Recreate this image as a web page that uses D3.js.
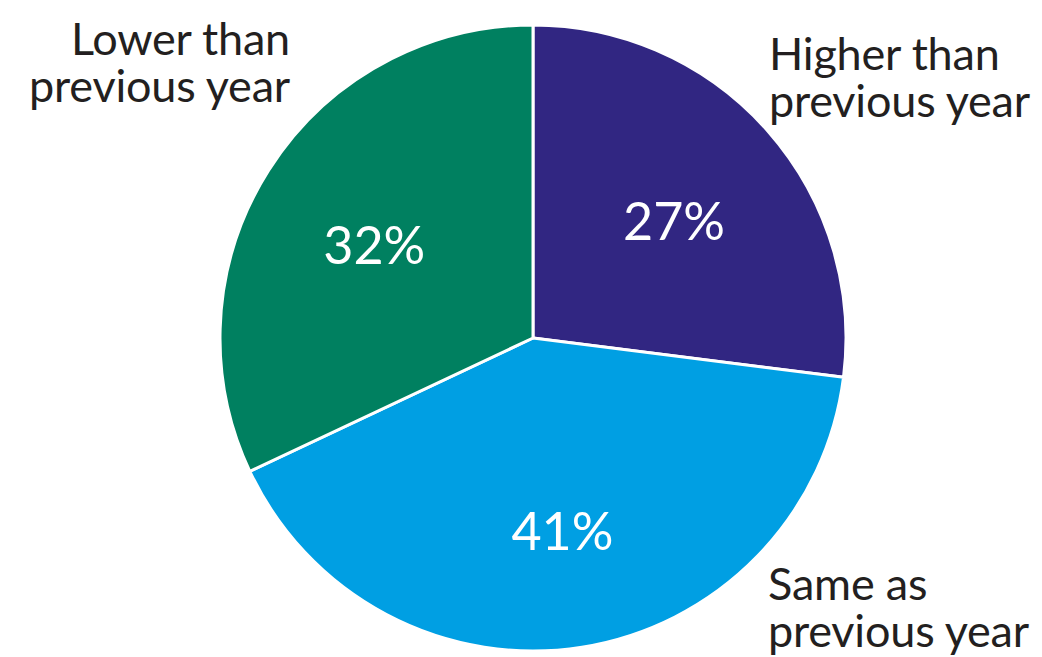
<!DOCTYPE html>
<html><head><meta charset="utf-8">
<script src="https://cdn.jsdelivr.net/npm/d3@7"></script>
<style>html,body{margin:0;padding:0;background:#fff;}svg{display:block;}</style>
</head><body>
<svg id="c" width="1042" height="657"></svg>
<script>
const categories = ["Higher than previous year", "Same as previous year", "Lower than previous year"];
const values = [27, 41, 32];
const colors = ["#312682", "#009FE3", "#008060"];
const labelLines = [["Higher than", "previous year"], ["Same as", "previous year"], ["Lower than", "previous year"]];

const svg = d3.select("#c");
const cx = 533, cy = 338, R = 313;
const g = svg.append("g").attr("transform", `translate(${cx},${cy})`);
const pie = d3.pie().sort(null).value(d => d)(values);
const arc = d3.arc().innerRadius(0).outerRadius(R);
const labelArc = d3.arc().innerRadius(188).outerRadius(188);

g.selectAll("path").data(pie).join("path")
  .attr("d", arc).attr("fill", (d, i) => colors[i])
  .attr("stroke", "#fff").attr("stroke-width", 3).attr("stroke-linejoin", "round");

g.selectAll("text.pct").data(pie).join("text").attr("class", "pct")
  .attr("transform", d => { const c = labelArc.centroid(d); return `translate(${c[0]},${c[1] + 8})`; })
  .attr("text-anchor", "middle").attr("dy", "0.36em")
  .attr("fill", "#fff").attr("font-family", "Lato").attr("font-size", 52)
  .text(d => d.data + "%");

const outer = [
  {x: 769, y: 70, anchor: "start"},
  {x: 768, y: 600, anchor: "start"},
  {x: 290, y: 55, anchor: "end"}
];
categories.forEach((c, i) => {
  const t = svg.append("text").attr("x", outer[i].x).attr("y", outer[i].y)
    .attr("text-anchor", outer[i].anchor).attr("fill", "#231f20")
    .attr("font-family", "Lato").attr("font-size", 45).attr("letter-spacing", -0.2);
  labelLines[i].forEach((l, j) => t.append("tspan").attr("x", outer[i].x).attr("dy", j ? 47 : 0).text(l));
});
</script>
</body></html>
